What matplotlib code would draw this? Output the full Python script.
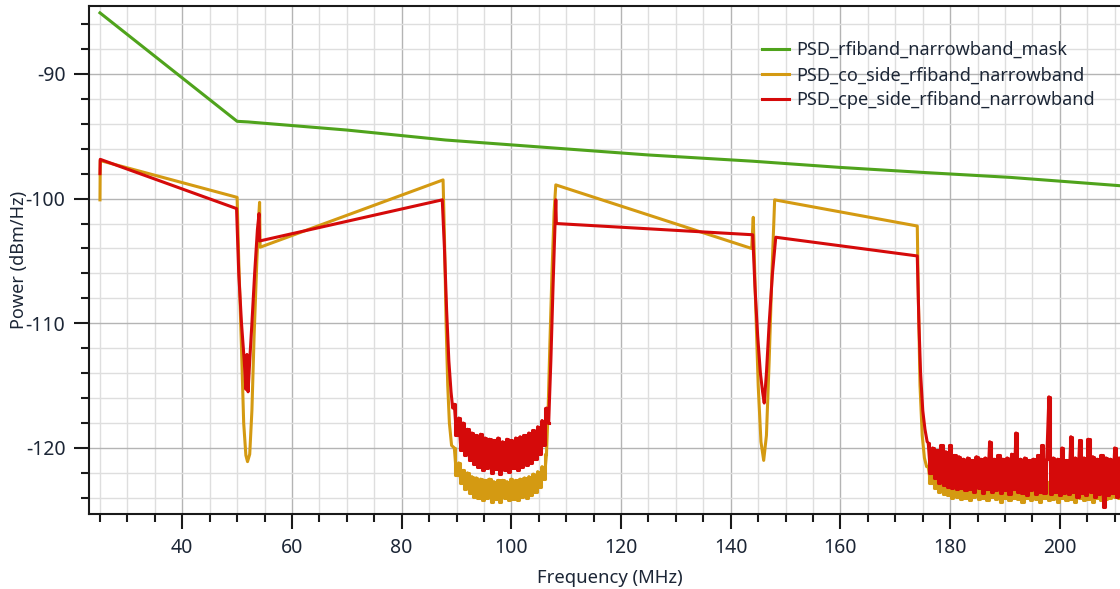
import numpy as np
import matplotlib
matplotlib.use("Agg")
import matplotlib.pyplot as plt
from matplotlib.ticker import MultipleLocator

plt.rcParams['font.family'] = ['Noto Sans', 'DejaVu Sans']
plt.rcParams['axes.unicode_minus'] = False

# limit mask
mask_f = [25, 50, 52, 70, 88, 108, 125, 144, 160, 175, 191, 212]
mask_p = [-85.1, -93.8, -93.85, -94.5, -95.3, -95.95, -96.5, -97.0, -97.5, -97.9, -98.3, -99.0]

# CO side: flat parts + notches
co_f = [25.0, 25.05, 50.0, 50.3, 50.8, 51.2, 51.6, 51.9, 52.3, 52.7, 53.1, 53.6, 54.0, 54.1, 54.2,
        87.55, 87.8, 88.1, 88.4, 88.7, 89.1]
co_p = [-100.1, -96.95, -99.9, -105.0, -112.0, -118.0, -120.6, -121.1, -120.5, -117.0, -111.0, -105.0, -101.0, -100.3, -103.9,
        -98.5, -103.0, -110.0, -115.0, -118.0, -119.8]
co_f2 = [106.7, 107.0, 107.4, 107.8, 108.1, 143.8, 144.1, 144.5, 145.0, 145.5, 146.0, 146.5, 147.0, 147.5, 148.0,
         174.0, 174.2, 174.5, 174.9, 175.3, 175.7]
co_p2 = [-117.0, -112.0, -106.0, -101.0, -98.9, -104.0, -101.5, -108.0, -115.0, -119.5, -121.0, -119.0, -113.0, -106.0, -100.1,
         -102.2, -108.0, -115.0, -119.0, -120.8, -121.5]

# CPE side
cpe_f = [25.0, 25.05, 49.9, 50.3, 50.8, 51.3, 51.6, 51.8, 52.0, 52.3, 52.7, 53.2, 53.7, 54.0, 54.1,
         87.4, 87.8, 88.2, 88.6, 89.0, 89.3]
cpe_p = [-98.0, -96.85, -100.8, -106.0, -110.0, -113.0, -115.3, -112.5, -115.5, -113.0, -110.0, -106.0, -102.5, -101.2, -103.4,
         -100.1, -104.0, -109.0, -113.0, -115.5, -116.8]
cpe_f2 = [107.2, 107.6, 108.0, 108.1, 108.2, 144.0, 144.4, 144.9, 145.4, 145.8, 146.1, 146.5, 147.0, 147.6, 148.2,
          174.0, 174.3, 174.6, 175.0, 175.4, 175.8]
cpe_p2 = [-113.0, -107.0, -101.5, -100.1, -102.0, -102.9, -107.0, -111.0, -114.0, -115.5, -116.4, -114.0, -110.0, -106.0, -103.1,
          -104.6, -110.0, -114.0, -117.0, -118.5, -119.5]

# noise floor inside the notches (0.4 MHz bins)
floor1_cpe = [-116.5, -119.0, -117.6, -120.2, -118.0, -120.6, -118.5, -121.0, -118.8, -121.3,
              -119.0, -121.5, -118.9, -121.8, -119.2, -121.6, -119.3, -122.0, -119.4, -121.7,
              -119.2, -122.1, -119.5, -121.8, -119.3, -121.9, -119.4, -121.6, -119.2, -121.8,
              -119.1, -121.5, -119.0, -121.4, -118.8, -121.2, -118.6, -120.9, -118.3, -120.5,
              -117.8, -119.8, -116.8, -118.0]
floor1_co = [-120.0, -122.2, -121.2, -122.8, -121.8, -123.3, -122.0, -123.6, -122.3, -123.9,
             -122.4, -124.0, -122.5, -124.2, -122.6, -124.0, -122.5, -124.3, -122.7, -124.1,
             -122.6, -124.3, -122.6, -124.0, -122.7, -124.2, -122.5, -124.1, -122.6, -124.2,
             -122.5, -123.9, -122.4, -124.0, -122.3, -123.8, -122.1, -123.5, -121.9, -123.1,
             -121.5, -122.5, -120.5]
floor2_cpe = [-119.6, -122.0, -120.0, -122.4, -120.2, -122.8, -119.8, -123.0, -120.3, -123.1,
              -119.8, -123.2, -120.6, -123.3, -120.7, -123.2, -120.9, -123.4, -120.8, -123.3,
              -121.0, -123.5, -120.7, -123.2, -120.9, -123.6, -120.8, -123.3, -119.5, -123.5,
              -120.9, -123.4, -120.6, -123.6, -120.9, -123.4, -120.8, -123.7, -120.5, -123.3,
              -118.8, -123.5, -120.9, -123.6, -120.8, -123.8, -121.0, -123.4, -120.9, -123.7,
              -120.6, -123.5, -119.8, -123.6, -120.9, -115.9, -123.7, -120.8, -123.5, -120.9,
              -123.8, -120.0, -123.6, -121.0, -123.7, -119.1, -123.5, -120.8, -123.9, -119.4,
              -123.6, -120.8, -123.8, -119.3, -123.5, -120.7, -123.9, -120.9, -123.7, -120.6,
              -124.7, -120.8, -123.8, -120.9, -123.6, -120.0, -123.9, -120.8, -123.7, -120.0,
              -123.4]
floor2_co = [-121.5, -122.8, -121.8, -123.2, -122.0, -123.5, -122.2, -123.7, -122.3, -123.8,
             -122.4, -124.0, -122.5, -123.9, -122.6, -124.1, -122.4, -124.0, -122.7, -124.2,
             -122.5, -123.9, -122.6, -124.1, -122.3, -124.0, -122.6, -124.2, -122.5, -123.9,
             -122.7, -124.1, -122.4, -124.3, -122.6, -124.0, -122.5, -124.2, -122.7, -124.0,
             -122.4, -124.1, -122.6, -124.3, -122.5, -124.0, -122.7, -124.2, -122.4, -124.1,
             -122.6, -124.3, -122.5, -124.0, -122.7, -124.2, -122.5, -124.1, -122.6, -124.3,
             -122.4, -124.0, -122.6, -124.2, -122.5, -124.1, -122.7, -124.3, -122.4, -124.0,
             -122.6, -124.2, -122.5, -124.1, -122.6, -124.3, -122.4, -124.0, -122.6, -124.2,
             -122.5, -124.1, -122.3, -124.0, -122.5, -123.9, -122.2, -124.0, -122.4, -123.8,
             -122.3]

step = 0.4
f1_cpe = 89.6 + step * np.arange(len(floor1_cpe))
f1_co = 89.6 + step * np.arange(len(floor1_co))
f2 = 176.0 + step * np.arange(len(floor2_cpe))

co_x = np.concatenate([co_f, f1_co, co_f2, f2])
co_y = np.concatenate([co_p, floor1_co, co_p2, floor2_co])
cpe_x = np.concatenate([cpe_f, f1_cpe, cpe_f2, f2])
cpe_y = np.concatenate([cpe_p, floor1_cpe, cpe_p2, floor2_cpe])

c_mask, c_co, c_cpe = '#4fa31c', '#d49a12', '#d50a0a'
txt = '#1c2636'
lw = 2.2

fig = plt.figure(figsize=(11.2, 5.89), dpi=100)
ax = fig.add_axes([89 / 1120, 1 - 514 / 589, 1 - 89 / 1120 + 0.01, (514 - 6) / 589])

ax.plot(mask_f, mask_p, color=c_mask, lw=lw, label='PSD_rfiband_narrowband_mask')
ax.plot(co_x, co_y, color=c_co, lw=lw, label='PSD_co_side_rfiband_narrowband')
# the floor is dense noise, fill it in with a step trace
ax.step(f1_co, floor1_co, where='mid', color=c_co, lw=lw)
ax.step(f2, floor2_co, where='mid', color=c_co, lw=lw)
ax.plot(cpe_x, cpe_y, color=c_cpe, lw=lw, label='PSD_cpe_side_rfiband_narrowband')
ax.step(f1_cpe, floor1_cpe, where='mid', color=c_cpe, lw=lw)
ax.step(f2, floor2_cpe, where='mid', color=c_cpe, lw=lw)

ax.set_xlim(23.0, 213.0)
ax.set_ylim(-125.3, -84.55)
ax.xaxis.set_major_locator(MultipleLocator(20))
ax.xaxis.set_minor_locator(MultipleLocator(5))
ax.yaxis.set_major_locator(MultipleLocator(10))
ax.yaxis.set_minor_locator(MultipleLocator(2))
ax.grid(which='major', color='#b4b4b4', lw=1.0)
ax.grid(which='minor', color='#dedede', lw=1.0)
ax.set_axisbelow(True)

for s in ['left', 'bottom', 'top']:
    ax.spines[s].set_color('#1a1a1a')
    ax.spines[s].set_linewidth(1.5)
ax.spines['right'].set_visible(False)
ax.tick_params(which='major', direction='out', length=11, width=1.5, color='#1a1a1a',
               labelsize=14, labelcolor=txt, pad=6)
ax.tick_params(which='minor', direction='out', length=6, width=1.5, color='#1a1a1a')

ax.set_xlabel('Frequency (MHz)', fontsize=13.3, color=txt, labelpad=8)
ax.set_ylabel('Power (dBm/Hz)', fontsize=13, color=txt)
ax.yaxis.set_label_coords((29 - 89) / 1031, 0.5)

leg = ax.legend(loc='upper left', bbox_to_anchor=(753 / 1120, 1 - 32 / 589),
                bbox_transform=fig.transFigure, frameon=False, fontsize=13,
                handlelength=1.5, handletextpad=0.4, labelspacing=0.4, borderpad=0)
for t in leg.get_texts():
    t.set_color(txt)

fig.savefig('out.png', dpi=100)
